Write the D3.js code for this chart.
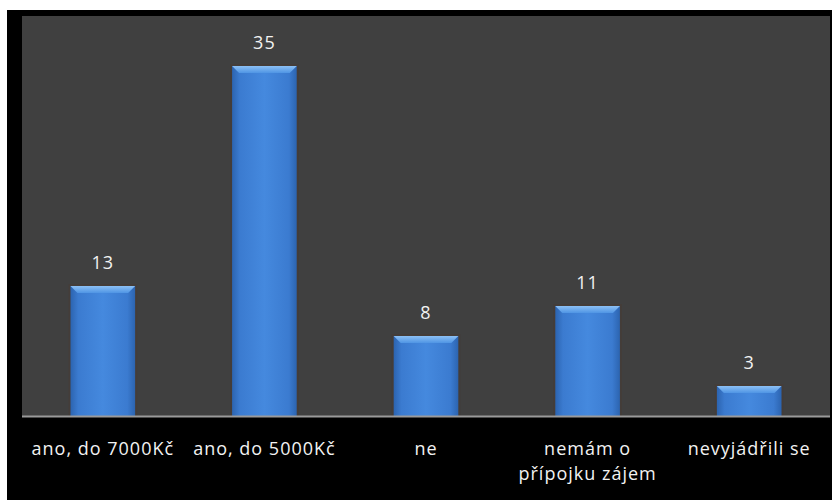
<!DOCTYPE html>
<html><head><meta charset="utf-8">
<script src="https://cdn.jsdelivr.net/npm/d3@7"></script>
<style>body{margin:0;background:#fff;}svg{display:block}</style>
</head><body>
<svg id="c" width="832" height="500"></svg>
<script>
const categories = ["ano, do 7000Kč", "ano, do 5000Kč", "ne", "nemám o|přípojku zájem", "nevyjádřili se"];
const values = [13, 35, 8, 11, 3];

const svg = d3.select("#c");
const W = 832, H = 500;
const plot = {left: 22, right: 830, top: 16, bottom: 416};

svg.append("rect").attr("x", 7).attr("y", 10).attr("width", W - 7).attr("height", H - 10).attr("fill", "#000");
svg.append("rect").attr("x", plot.left).attr("y", plot.top).attr("width", plot.right - plot.left).attr("height", plot.bottom - plot.top).attr("fill", "#404040");

const x = d3.scaleBand().domain(categories).range([plot.left, plot.right]).paddingInner(0.6).paddingOuter(0.3);
const y = d3.scaleLinear().domain([0, 40]).range([plot.bottom, plot.top]);

const defs = svg.append("defs");
const g1 = defs.append("linearGradient").attr("id", "barg").attr("x1", 0).attr("x2", 1).attr("y1", 0).attr("y2", 0);
[[0, "#2c64b0"], [0.12, "#3b7bd0"], [0.5, "#4589de"], [0.88, "#3b7bd0"], [1, "#2c64b0"]].forEach(([o, c]) => g1.append("stop").attr("offset", o).attr("stop-color", c));
const g2 = defs.append("linearGradient").attr("id", "topg").attr("x1", 0).attr("x2", 0).attr("y1", 0).attr("y2", 1);
[[0, "#8cc0f5"], [1, "#4f95e4"]].forEach(([o, c]) => g2.append("stop").attr("offset", o).attr("stop-color", c));

const bars = svg.append("g").selectAll("g").data(values).join("g");
bars.append("rect")
  .attr("x", (d, i) => x(categories[i]) - 2).attr("y", d => y(d) - 2)
  .attr("width", x.bandwidth() + 4).attr("height", d => y(0) - y(d) + 2)
  .attr("fill", "#4a3a30").attr("opacity", 0.45);
bars.append("rect")
  .attr("x", (d, i) => x(categories[i])).attr("y", d => y(d))
  .attr("width", x.bandwidth()).attr("height", d => y(0) - y(d))
  .attr("fill", "url(#barg)");
bars.append("path")
  .attr("d", (d, i) => {
    const x0 = x(categories[i]), x1 = x0 + x.bandwidth(), t = y(d), b = 7;
    return `M${x0},${t}L${x1},${t}L${x1 - b},${t + b}L${x0 + b},${t + b}Z`;
  })
  .attr("fill", "url(#topg)");

svg.append("line").attr("x1", plot.left).attr("x2", plot.right).attr("y1", plot.bottom + 0.5).attr("y2", plot.bottom + 0.5)
  .attr("stroke", "#9a9a9a").attr("stroke-width", 2);

const font = "'Open Sans', sans-serif";
svg.append("g").selectAll("text").data(values).join("text")
  .attr("x", (d, i) => x(categories[i]) + x.bandwidth() / 2)
  .attr("y", d => y(d) - 17)
  .attr("text-anchor", "middle").attr("fill", "#f2f2f2").attr("font-family", font).attr("font-size", 18)
  .attr("letter-spacing", 1)
  .text(d => d);

const xl = svg.append("g").selectAll("text").data(categories).join("text")
  .attr("x", d => x(d) + x.bandwidth() / 2)
  .attr("y", 455)
  .attr("text-anchor", "middle").attr("fill", "#f2f2f2").attr("font-family", font).attr("font-size", 18)
  .attr("letter-spacing", 1);
xl.each(function(d) {
  const parts = d.split("|");
  parts.forEach((p, k) => d3.select(this).append("tspan").attr("x", d3.select(this).attr("x")).attr("dy", k ? 25 : 0).text(p));
});
</script>
</body></html>
